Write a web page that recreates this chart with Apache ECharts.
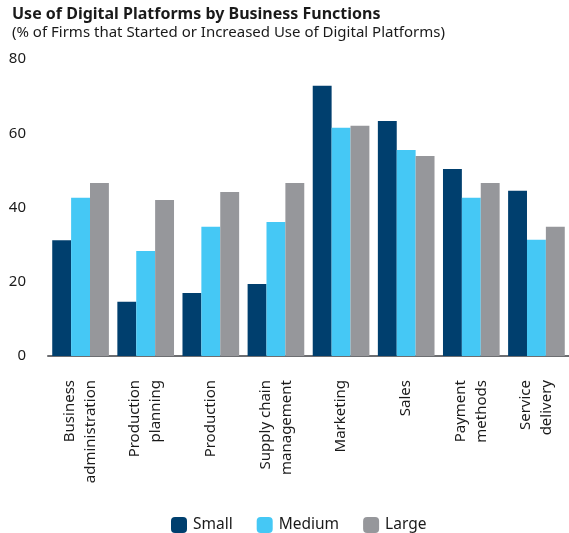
<!DOCTYPE html>
<html lang="en">
<head>
    <meta charset="UTF-8">
    <title>Use of Digital Platforms</title>
    <style>
        html, body { margin: 0; padding: 0; background: #fff; }
        #main { width: 569px; height: 533px; }
    </style>
</head>
<body>
    <div id="main"></div>
    <script src="https://cdn.jsdelivr.net/npm/echarts@6/dist/echarts.min.js"></script>
    <script>
        var categories = ['Business\nadministration', 'Production\nplanning', 'Production', 'Supply chain\nmanagement',
            'Marketing', 'Sales', 'Payment\nmethods', 'Service\ndelivery'];
        var small = [31.2, 14.6, 17.0, 19.4, 72.8, 63.3, 50.4, 44.5];
        var medium = [42.6, 28.3, 34.8, 36.1, 61.5, 55.5, 42.6, 31.3];
        var large = [46.6, 42.0, 44.2, 46.6, 62.0, 53.9, 46.6, 34.8];
        var yTicks = [0, 20, 40, 60, 80];

        var font = '"Noto Sans", sans-serif';
        var myChart = echarts.init(document.getElementById('main'));

        var option = {
            animation: false,
            title: {
                text: 'Use of Digital Platforms by Business Functions',
                subtext: '(% of Firms that Started or Increased Use of Digital Platforms)',
                left: 7,
                top: 1,
                itemGap: 3,
                textStyle: { fontFamily: font, fontSize: 16, fontWeight: 'bold', color: '#1a1a1a' },
                subtextStyle: { fontFamily: font, fontSize: 15, color: '#1a1a1a' }
            },
            legend: {
                bottom: 0,
                left: 171,
                padding: 0,
                itemWidth: 16,
                itemHeight: 16,
                itemGap: 24,
                textStyle: { fontFamily: font, fontSize: 15.5, color: '#1a1a1a', padding: [0, 0, 0, 1] },
                data: ['Small', 'Medium', 'Large']
            },
            grid: { left: 48, right: -2, top: 59, bottom: 177 },
            xAxis: {
                type: 'category',
                data: categories,
                axisLine: { lineStyle: { color: '#6d6e71', width: 2 } },
                axisTick: { show: false },
                axisLabel: {
                    rotate: 90,
                    interval: 0,
                    margin: 24,
                    fontFamily: font,
                    fontSize: 15,
                    lineHeight: 21,
                    color: '#1a1a1a'
                }
            },
            yAxis: {
                type: 'value',
                min: yTicks[0],
                max: yTicks[yTicks.length - 1],
                interval: 20,
                splitLine: { show: false },
                axisLine: { show: false },
                axisTick: { show: false },
                axisLabel: { fontFamily: font, fontSize: 15, color: '#1a1a1a', margin: 22 }
            },
            series: [
                { name: 'Small', type: 'bar', data: small, barGap: '0%', barCategoryGap: '13%', itemStyle: { color: '#003f6e' } },
                { name: 'Medium', type: 'bar', data: medium, barGap: '0%', barCategoryGap: '13%', itemStyle: { color: '#45c8f5' } },
                { name: 'Large', type: 'bar', data: large, barGap: '0%', barCategoryGap: '13%', itemStyle: { color: '#96979b' } }
            ]
        };

        myChart.setOption(option);
    </script>
</body>
</html>
